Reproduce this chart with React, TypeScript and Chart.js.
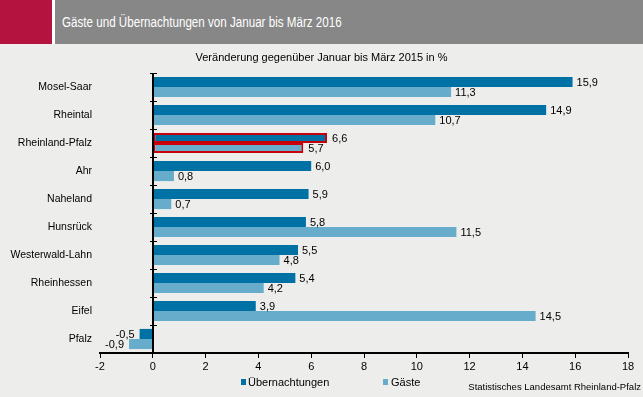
import React, { useEffect, useRef } from 'react';
import { Chart, registerables } from 'chart.js';

Chart.register(...registerables);

const categories = [
  'Mosel-Saar',
  'Rheintal',
  'Rheinland-Pfalz',
  'Ahr',
  'Naheland',
  'Hunsrück',
  'Westerwald-Lahn',
  'Rheinhessen',
  'Eifel',
  'Pfalz',
];
const uebernachtungen = [15.9, 14.9, 6.6, 6.0, 5.9, 5.8, 5.5, 5.4, 3.9, -0.5];
const gaeste = [11.3, 10.7, 5.7, 0.8, 0.7, 11.5, 4.8, 4.2, 14.5, -0.9];
const highlightIndex = 2;
const xMin = -2;
const xMax = 18;
const xStep = 2;

const titleText = 'Gäste und Übernachtungen von Januar bis März 2016';
const subtitleText = 'Veränderung gegenüber Januar bis März 2015 in %';
const sourceText = 'Statistisches Landesamt Rheinland-Pfalz';
const seriesNames = ['Übernachtungen', 'Gäste'];

const DARK = '#0071A4';
const LIGHT = '#67ACCB';
const RED = '#C8000A';
const BG = '#EDEEEC';
const FONT = '"Liberation Sans", Arial, Helvetica, sans-serif';

const fmt = (v: number) => v.toFixed(1).replace('.', ',');

const valueLabels = {
  id: 'valueLabels',
  afterDatasetsDraw(chart: any) {
    const ctx = chart.ctx;
    ctx.save();
    ctx.font = '11px ' + FONT;
    ctx.fillStyle = '#000';
    ctx.textBaseline = 'middle';
    chart.data.datasets.forEach((ds: any, di: number) => {
      const meta = chart.getDatasetMeta(di);
      meta.data.forEach((bar: any, i: number) => {
        const v = ds.data[i] as number;
        const { x, y } = bar.getProps(['x', 'y'], true);
        const extra = i === highlightIndex ? 1 : 0;
        if (v >= 0) {
          ctx.textAlign = 'left';
          ctx.fillText(fmt(v), x + 4 + extra, y + 1);
        } else {
          ctx.textAlign = 'right';
          ctx.fillText(fmt(v), x - 5, y + 1);
        }
      });
    });
    ctx.restore();
  },
};

const zeroAxis = {
  id: 'zeroAxis',
  afterDatasetsDraw(chart: any) {
    const ctx = chart.ctx;
    const xs = chart.scales.x;
    const ys = chart.scales.y;
    const x0 = Math.round(xs.getPixelForValue(0));
    ctx.save();
    ctx.strokeStyle = '#000';
    ctx.lineWidth = 2;
    ctx.beginPath();
    ctx.moveTo(x0, ys.top);
    ctx.lineTo(x0, ys.bottom);
    ctx.stroke();
    const n = categories.length;
    const half = (ys.getPixelForValue(1) - ys.getPixelForValue(0)) / 2;
    ctx.lineWidth = 1;
    for (let i = 0; i <= n; i++) {
      const yc = i < n ? ys.getPixelForValue(i) - half : ys.getPixelForValue(n - 1) + half;
      const yy = Math.round(yc) + 0.5;
      ctx.beginPath();
      ctx.moveTo(x0 - 3, yy);
      ctx.lineTo(x0 + 4, yy);
      ctx.stroke();
    }
    ctx.restore();
  },
};

export default function App() {
  const canvasRef = useRef<HTMLCanvasElement | null>(null);

  useEffect(() => {
    const canvas = canvasRef.current;
    if (!canvas) return;
    const chart = new Chart(canvas, {
      type: 'bar',
      data: {
        labels: categories,
        datasets: [
          {
            label: seriesNames[0],
            data: uebernachtungen,
            backgroundColor: DARK,
            borderColor: categories.map((_, i) => (i === highlightIndex ? RED : DARK)),
            borderWidth: categories.map((_, i) => (i === highlightIndex ? 2 : 0)),
            borderSkipped: false,
            categoryPercentage: 0.72,
            barPercentage: 1,
          },
          {
            label: seriesNames[1],
            data: gaeste,
            backgroundColor: LIGHT,
            borderColor: categories.map((_, i) => (i === highlightIndex ? RED : LIGHT)),
            borderWidth: categories.map((_, i) => (i === highlightIndex ? 2 : 0)),
            borderSkipped: false,
            categoryPercentage: 0.72,
            barPercentage: 1,
          },
        ],
      },
      options: {
        indexAxis: 'y',
        responsive: false,
        animation: false,
        devicePixelRatio: 1,
        layout: { padding: { left: 0, top: 73, right: 15, bottom: 0 } },
        plugins: {
          legend: { display: false },
          tooltip: { enabled: false },
          title: { display: false },
        },
        scales: {
          x: {
            type: 'linear',
            min: xMin,
            max: xMax,
            ticks: {
              stepSize: xStep,
              color: '#000',
              font: { family: FONT, size: 11 },
              padding: 2,
              callback: (v: any) => String(v),
            },
            grid: {
              display: true,
              drawOnChartArea: false,
              drawTicks: true,
              tickLength: 5,
              tickColor: '#000',
              tickWidth: 1,
            },
            border: { display: true, color: '#000', width: 2 },
            afterFit: (scale: any) => {
              scale.height = 44;
            },
          },
          y: {
            type: 'category',
            offset: true,
            ticks: {
              color: '#000',
              font: { family: FONT, size: 10.5 },
              padding: 8,
            },
            grid: { display: false, drawTicks: false },
            border: { display: false },
            afterFit: (scale: any) => {
              scale.width = 100;
            },
          },
        },
      },
      plugins: [valueLabels, zeroAxis],
    } as any);
    return () => chart.destroy();
  }, []);

  return (
    <div
      style={{
        position: 'fixed',
        left: 0,
        top: 0,
        width: 643,
        height: 397,
        background: BG,
        overflow: 'hidden',
        fontFamily: FONT,
      }}
    >
      <div style={{ position: 'absolute', left: 0, top: 0, width: 52, height: 44, background: '#B5133F' }} />
      <div style={{ position: 'absolute', left: 52, top: 0, width: 3, height: 44, background: '#FFFFFF' }} />
      <div style={{ position: 'absolute', left: 55, top: 0, width: 588, height: 44, background: '#878787' }} />
      <div
        style={{
          position: 'absolute',
          left: 62,
          top: 14,
          fontSize: 14,
          lineHeight: '16px',
          color: '#FFFFFF',
          whiteSpace: 'nowrap',
          transform: 'scaleX(0.83)',
          transformOrigin: 'left center',
        }}
      >
        {titleText}
      </div>
      <canvas
        ref={canvasRef}
        width={643}
        height={397}
        style={{ position: 'absolute', left: 0, top: 0, width: 643, height: 397 }}
      />
      <div
        style={{
          position: 'absolute',
          left: 0,
          width: 643,
          top: 50,
          textAlign: 'center',
          fontSize: 11,
          lineHeight: '14px',
          color: '#000',
          whiteSpace: 'nowrap',
        }}
      >
        {subtitleText}
      </div>
      <div style={{ position: 'absolute', left: 241, top: 379, width: 5, height: 6, background: DARK }} />
      <div
        style={{ position: 'absolute', left: 248, top: 375, fontSize: 11, lineHeight: '14px', color: '#000', whiteSpace: 'nowrap' }}
      >
        {seriesNames[0]}
      </div>
      <div style={{ position: 'absolute', left: 383, top: 379, width: 5, height: 6, background: LIGHT }} />
      <div
        style={{ position: 'absolute', left: 391, top: 375, fontSize: 11, lineHeight: '14px', color: '#000', whiteSpace: 'nowrap' }}
      >
        {seriesNames[1]}
      </div>
      <div
        style={{
          position: 'absolute',
          right: 2,
          top: 381,
          fontSize: 9.5,
          lineHeight: '12px',
          color: '#000',
          whiteSpace: 'nowrap',
        }}
      >
        {sourceText}
      </div>
    </div>
  );
}
